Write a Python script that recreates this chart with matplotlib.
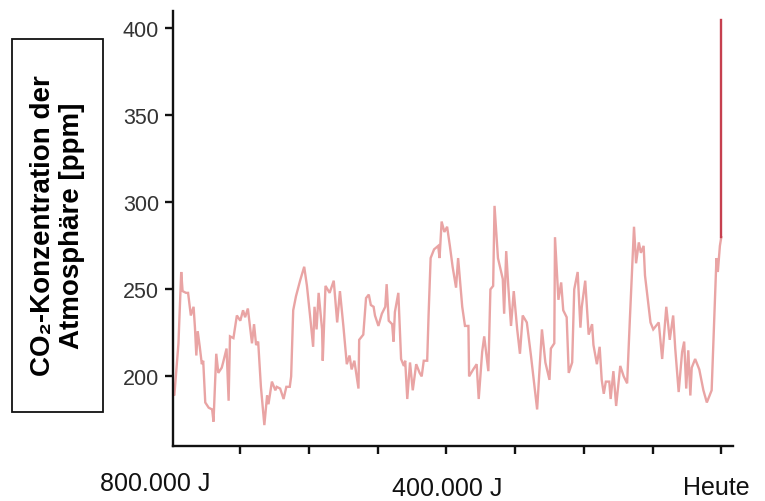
import matplotlib.pyplot as plt
from matplotlib.patches import Rectangle

# Jahre vor heute (in tausend Jahren) und CO2 in ppm
years = [ -798, -796, -790, -786, -784, -779, -776, -772, -768, -766, -764, -762, -759, -756, -754,
          -751, -746, -741, -739, -735, -732, -727, -725, -720, -717, -715, -710, -705, -700, -696,
          -693, -689, -683, -680, -677, -674, -670, -665, -661, -659, -654, -649, -647, -642, -637,
          -633, -628, -626, -623, -619, -615, -613, -607, -603, -598, -594, -592, -589, -586, -581,
          -580, -576, -570, -564, -559, -555, -550, -545, -541, -538, -534, -528, -527, -521, -517,
          -513, -510, -506, -504, -499, -494, -489, -487, -484, -479, -477, -475, -470, -466, -462,
          -460, -457, -453, -449, -444, -439, -436, -433, -428, -426, -423, -418, -412, -410, -407,
          -403, -399, -395, -391, -386, -383, -377, -373, -368, -367, -361, -356, -353, -348, -345,
          -339, -336, -332, -330, -325, -318, -316, -313, -310, -306, -302, -297, -293, -289, -283,
          -277, -268, -261, -256, -250, -248, -243, -242, -237, -233, -230, -225, -222, -217, -214,
          -209, -205, -203, -198, -193, -188, -186, -181, -177, -174, -171, -168, -163, -161, -157,
          -153, -147, -142, -137, -133, -127, -124, -120, -117, -113, -111, -103, -99, -91, -86,
          -80, -75, -70, -67, -62, -57, -54, -51, -48, -45, -43, -38, -32, -26, -21,
          -14, -10, -7, -5, -2, 0 ]
co2 = [ 190, 189, 219, 260, 249, 248, 248, 235, 240, 228, 212, 226, 217, 207, 209,
        185, 182, 181, 174, 213, 202, 205, 208, 216, 186, 223, 222, 235, 232, 238,
        234, 239, 219, 230, 218, 220, 194, 172, 189, 184, 197, 192, 194, 193, 187,
        194, 194, 200, 238, 246, 252, 255, 263, 252, 233, 217, 240, 227, 248, 227,
        209, 252, 248, 255, 231, 249, 229, 207, 212, 204, 209, 193, 221, 224, 245,
        247, 241, 240, 235, 229, 236, 240, 253, 232, 230, 220, 237, 248, 210, 206,
        209, 187, 208, 192, 207, 202, 200, 209, 209, 235, 268, 273, 275, 268, 289,
        283, 286, 275, 263, 251, 268, 240, 229, 229, 200, 204, 207, 187, 214, 223,
        203, 250, 252, 298, 268, 256, 236, 272, 252, 229, 249, 227, 213, 235, 231,
        212, 181, 227, 208, 198, 216, 219, 280, 244, 254, 238, 234, 202, 208, 250,
        260, 228, 240, 255, 224, 230, 218, 207, 217, 198, 190, 197, 197, 187, 203,
        183, 206, 200, 196, 233, 286, 265, 277, 271, 275, 258, 231, 227, 231, 210,
        240, 221, 235, 216, 191, 214, 220, 193, 215, 189, 205, 210, 204, 192, 185,
        192, 235, 268, 260, 275, 280 ]

# heutiger Anstieg
today_years = [ 0, 0 ]
today_co2 = [ 280, 405 ]

x_ticks = [ -700, -600, -500, -400, -300, -200, -100, 0 ]
y_ticks = [ 200, 250, 300, 350, 400 ]

plt.rcParams[ 'font.family' ] = [ 'Liberation Sans', 'DejaVu Sans' ]

fig = plt.figure( figsize = ( 7.65, 5.02 ), dpi = 100 )
ax = fig.add_axes( [ 0.2261, 0.1096, 0.732, 0.8665 ] )

ax.plot( years, co2, color = '#e9a4a4', linewidth = 1.7, solid_joinstyle = 'miter' )
ax.plot( today_years, today_co2, color = '#c6404f', linewidth = 1.7 )

ax.set_xlim( -798, 17 )
ax.set_ylim( 160, 410 )
ax.set_xticks( x_ticks )
ax.set_xticklabels( [] )
ax.set_yticks( y_ticks )

for side in [ 'top', 'right' ]:
    ax.spines[ side ].set_visible( False )
for side in [ 'left', 'bottom' ]:
    ax.spines[ side ].set_linewidth( 1.7 )
    ax.spines[ side ].set_color( '#111111' )

ax.tick_params( axis = 'both', length = 6, width = 1.7, color = '#111111' )
ax.tick_params( axis = 'y', labelsize = 15.5, labelcolor = '#333333', pad = 4 )

# Beschriftung unter der x-Achse
trans = ax.get_xaxis_transform()
ax.text( -824, -0.085, '800.000 J', transform = trans, ha = 'center', va = 'center', fontsize = 18, color = '#111111' )
ax.text( -399, -0.097, '400.000 J', transform = trans, ha = 'center', va = 'center', fontsize = 18, color = '#111111' )
ax.text( -7, -0.095, 'Heute', transform = trans, ha = 'center', va = 'center', fontsize = 18, color = '#111111' )

# y-Achsentitel im Kasten
fig.patches.append( Rectangle( ( 0.0157, 0.177 ), 0.119, 0.743, transform = fig.transFigure,
                               fill = False, edgecolor = '#111111', linewidth = 1.3 ) )
fig.text( 0.0755, 0.55, 'CO\u2082-Konzentration der\nAtmosphäre [ppm]', rotation = 90,
          ha = 'center', va = 'center', fontsize = 20, fontweight = 'bold', linespacing = 1.15 )

plt.savefig( 'out.png' )
